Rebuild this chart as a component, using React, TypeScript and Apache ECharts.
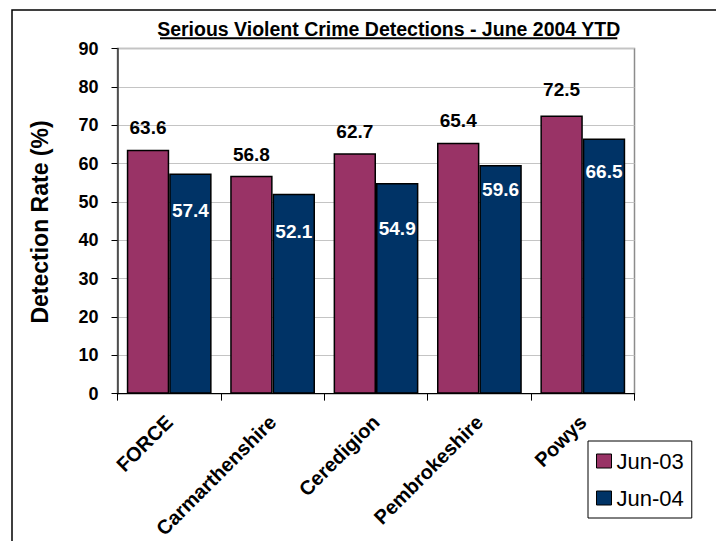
import React, { useEffect, useRef } from "react";
import * as echarts from "echarts";

const categories = ["FORCE", "Carmarthenshire", "Ceredigion", "Pembrokeshire", "Powys"];
const seriesNames = ["Jun-03", "Jun-04"];
const jun03 = [63.6, 56.8, 62.7, 65.4, 72.5];
const jun04 = [57.4, 52.1, 54.9, 59.6, 66.5];
const yTicks = { min: 0, max: 90, interval: 10 };

// label placement (style only)
const jun03LabelDistance = [12.7, 12.1, 12.5, 12.4, 16.2];
const jun04LabelDistance = [27.9, 28.6, 35.9, 14.6, 23.1];

const FONT = "'Liberation Sans', Arial, Helvetica, sans-serif";
const MAROON = "#993366";
const NAVY = "#003366";

export default function App() {
  const ref = useRef<HTMLDivElement>(null);

  useEffect(() => {
    if (!ref.current) return;
    const chart = echarts.init(ref.current, null, { renderer: "svg" });

    const option: any = {
      animation: false,
      backgroundColor: "#ffffff",
      textStyle: { fontFamily: FONT },
      grid: {
        left: 117.5,
        top: 48.5,
        width: 517,
        height: 346,
        show: true,
        borderColor: "#8c8c8c",
        borderWidth: 1.5,
        backgroundColor: "transparent",
      },
      legend: {
        orient: "vertical",
        left: 588,
        top: 441,
        padding: [8, 8, 8, 8],
        itemGap: 13,
        itemWidth: 15,
        itemHeight: 14,
        icon: "rect",
        borderColor: "#000",
        borderWidth: 1,
        backgroundColor: "#fff",
        itemStyle: { borderColor: "#000", borderWidth: 1 },
        textStyle: { fontFamily: FONT, fontSize: 22, color: "#000", lineHeight: 24 },
        data: seriesNames,
      },
      xAxis: {
        type: "category",
        data: categories,
        axisLine: { lineStyle: { color: "#000", width: 1 } },
        axisTick: { show: true, length: 7, lineStyle: { color: "#000" } },
        axisLabel: {
          rotate: 45,
          margin: 25,
          fontSize: 20,
          fontWeight: "bold",
          color: "#000",
          fontFamily: FONT,
          interval: 0,
        },
      },
      yAxis: {
        type: "value",
        min: yTicks.min,
        max: yTicks.max,
        interval: yTicks.interval,
        axisLine: { show: true, lineStyle: { color: "#3a3a3a", width: 1.5 } },
        axisTick: { show: true, length: 6, lineStyle: { color: "#000" } },
        axisLabel: {
          margin: 19,
          fontSize: 18,
          fontWeight: "bold",
          color: "#000",
          fontFamily: FONT,
        },
        splitLine: { show: true, lineStyle: { color: "#c4c4c4", width: 1 } },
      },
      series: [
        {
          name: seriesNames[0],
          type: "bar",
          barGap: "0%",
          barCategoryGap: "18%",
          itemStyle: { color: MAROON, borderColor: "#000", borderWidth: 1.5 },
          data: jun03.map((v, i) => ({
            value: v,
            label: { distance: jun03LabelDistance[i] },
          })),
          label: {
            show: true,
            position: "top",
            fontSize: 19,
            fontWeight: "bold",
            color: "#000",
            fontFamily: FONT,
          },
        },
        {
          name: seriesNames[1],
          type: "bar",
          barGap: "0%",
          barCategoryGap: "18%",
          itemStyle: { color: NAVY, borderColor: "#000", borderWidth: 1.5 },
          data: jun04.map((v, i) => ({
            value: v,
            label: { distance: jun04LabelDistance[i] },
          })),
          label: {
            show: true,
            position: "insideTop",
            fontSize: 19,
            fontWeight: "bold",
            color: "#fff",
            fontFamily: FONT,
          },
        },
      ],
      graphic: [
        {
          type: "rect",
          silent: true,
          shape: { x: 12, y: 10, width: 800, height: 600 },
          style: { fill: "none", stroke: "#000", lineWidth: 1.5 },
        },
        {
          type: "text",
          x: 388.7,
          y: 28.5,
          style: {
            text: "Serious Violent Crime Detections - June 2004 YTD",
            font: `bold 19.5px ${FONT}`,
            fill: "#000",
            align: "center",
            verticalAlign: "middle",
          },
        },
        {
          type: "line",
          shape: { x1: 160, y1: 38.3, x2: 617.3, y2: 38.3 },
          style: { stroke: "#000", lineWidth: 2 },
        },
        {
          type: "text",
          x: 40,
          y: 222,
          rotation: Math.PI / 2,
          style: {
            text: "Detection Rate (%)",
            font: `bold 23px ${FONT}`,
            fill: "#000",
            align: "center",
            verticalAlign: "middle",
          },
        },
      ],
    };

    chart.setOption(option);
    return () => chart.dispose();
  }, []);

  return (
    <div
      ref={ref}
      style={{ position: "fixed", left: 0, top: 0, width: 716, height: 541, background: "#fff" }}
    />
  );
}
